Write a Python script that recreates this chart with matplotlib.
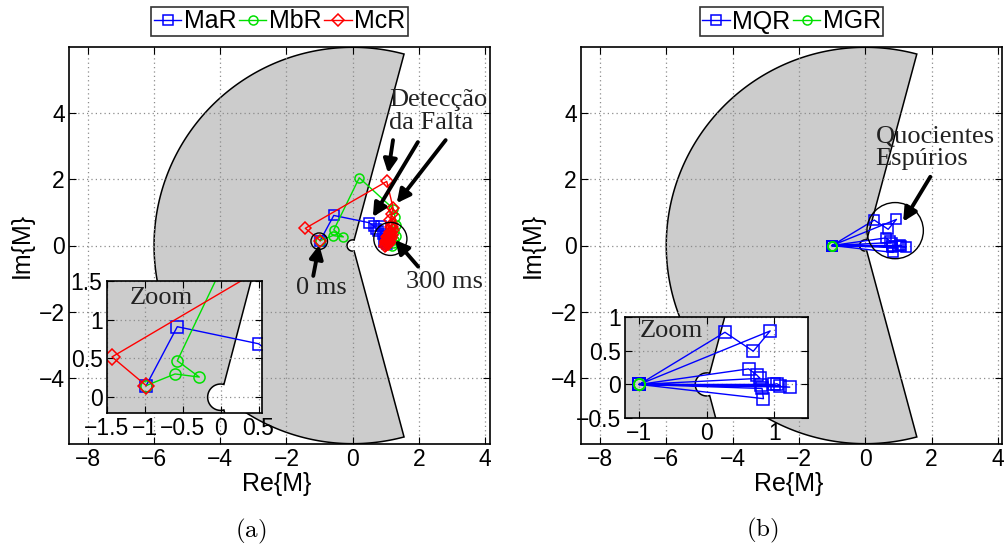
import numpy as np
import matplotlib
matplotlib.use("Agg")
import matplotlib.pyplot as plt
from matplotlib.patches import Polygon, Circle

plt.rcParams['font.family'] = ['Liberation Sans', 'DejaVu Sans']
plt.rcParams['mathtext.fontset'] = 'cm'

# --- data ---
# panel (a): trajectories of the three quotients
ma_re = [-0.98, -0.57, 0.50, 0.65, 0.72, 0.85, 0.78, 0.92, 0.98, 1.02, 0.95, 1.05]
ma_im = [0.15, 0.91, 0.69, 0.58, 0.50, 0.60, 0.45, 0.35, 0.28, 0.20, 0.12, 0.05]
mb_re = [-0.98, -0.60, -0.28, -0.57, 0.20, 1.23, 1.28, 1.30, 1.26, 1.30, 1.25, 1.22, 1.18]
mb_im = [0.15, 0.30, 0.26, 0.47, 2.05, 1.11, 0.85, 0.62, 0.45, 0.30, 0.18, 0.08, 0.00]
mc_re = [-0.98, -1.43, 1.03, 1.22, 1.18, 1.14, 1.20, 1.15, 1.22, 1.12, 1.18, 1.08,
         1.15, 1.05, 1.10, 1.00, 1.06, 1.02, 1.12, 0.98, 1.08, 1.16, 1.04, 1.12,
         1.00, 1.10, 1.18, 1.06, 1.14, 1.02]
mc_im = [0.15, 0.52, 1.94, 1.15, 0.95, 0.78, 0.65, 0.55, 0.48, 0.40, 0.33, 0.28,
         0.22, 0.18, 0.12, 0.08, 0.05, 0.02, 0.10, 0.00, 0.30, 0.42, 0.25, 0.36,
         0.15, 0.20, 0.55, 0.06, 0.28, 0.12]

# panel (b)
mq_re = [-1.00, 0.27, 0.69, 0.94, -1.00, 0.62, 0.74, 0.79, -1.00, 0.80, 1.23, -1.00,
         0.84, 0.82, -1.00, 0.99, 1.04, 1.09, -1.00]
mq_im = [0.00, 0.77, 0.49, 0.79, 0.00, 0.23, 0.14, 0.09, 0.00, -0.01, -0.04, 0.00,
         -0.21, -0.06, 0.00, 0.00, 0.01, -0.02, 0.00]
mg_re = [-1.00, -1.00, -1.00]
mg_im = [0.00, 0.00, 0.00]

# restraint region: annular sector
R_OUT = 6.0
R_IN = 0.17
ANG_MIN, ANG_MAX = 75.0, 285.0

W, H = 1005, 547
fig = plt.figure(figsize=(W / 100, H / 100), dpi=100)


def px_axes(x0, y0, x1, y1):
    return fig.add_axes([x0 / W, 1 - y1 / H, (x1 - x0) / W, (y1 - y0) / H])


def draw_region(ax):
    t_out = np.radians(np.linspace(ANG_MIN, ANG_MAX, 300))
    t_in = np.radians(np.linspace(ANG_MAX, ANG_MIN, 80))
    xs = np.concatenate([R_OUT * np.cos(t_out), R_IN * np.cos(t_in)])
    ys = np.concatenate([R_OUT * np.sin(t_out), R_IN * np.sin(t_in)])
    ax.add_patch(Polygon(np.column_stack([xs, ys]), closed=True, facecolor='#cccccc',
                         edgecolor='black', lw=1.1, zorder=1))


def tick_fmt(v):
    return ('%g' % v).replace('-', '\u2212')


def style_axes(ax, xticks, yticks, xlim, ylim):
    ax.set_xlim(*xlim)
    ax.set_ylim(*ylim)
    ax.set_xticks(xticks)
    ax.set_yticks(yticks)
    ax.set_xticklabels([tick_fmt(v) for v in xticks])
    ax.set_yticklabels([tick_fmt(v) for v in yticks])
    ax.grid(True, ls=(0, (1, 2.5)), color='0.55', lw=0.9)
    ax.set_axisbelow(False)
    ax.tick_params(direction='in', top=True, right=True, length=5, labelsize=16.5, pad=3)
    for s in ax.spines.values():
        s.set_linewidth(1.2)
        s.set_zorder(5)


def plot_series(ax, big):
    ms = 8 if big else 6.5
    h = []
    for re, im, c, m in sets:
        ln, = ax.plot(re, im, color=c, marker=m, ms=ms, mfc='none', mew=1.1, lw=1.0, zorder=3)
        h.append(ln)
    return h


serif = ['Liberation Serif', 'DejaVu Serif']
arrow_kw = dict(arrowstyle='-|>', color='black', lw=2.8, mutation_scale=20, shrinkA=0, shrinkB=0)
leg_kw = dict(loc='center', fontsize=18, frameon=True, fancybox=False, edgecolor='black',
              handlelength=1.1, handletextpad=0.1, columnspacing=0.1, borderpad=0.1,
              borderaxespad=0)

# ================= panel (a) =================
ax1 = px_axes(69, 47.3, 490, 443.7)
draw_region(ax1)
sets = [(ma_re, ma_im, 'blue', 's'), (mb_re, mb_im, '#00e000', 'o'), (mc_re, mc_im, 'red', 'D')]
hA = plot_series(ax1, False)
style_axes(ax1, [-8, -6, -4, -2, 0, 2, 4], [-4, -2, 0, 2, 4], (-8.57, 4.15), (-6, 6))
ax1.add_patch(Circle((-1.01, 0.13), 0.25, fill=False, ec='black', lw=1.0, zorder=4))
ax1.add_patch(Circle((1.14, 0.20), 0.50, fill=False, ec='black', lw=1.0, zorder=4))
ax1.text(1.10, 4.06, 'Detecção\nda Falta', family=serif, fontsize=19, ha='left', va='center',
         linespacing=1.05, color='#222222', zorder=6)
ax1.text(-0.93, -1.29, '0 ms', family=serif, fontsize=19, ha='center', va='center', color='#222222')
ax1.text(1.62, -1.10, '300 ms', family=serif, fontsize=19, ha='left', va='center', color='#222222')
for tail, head in [((1.22, 3.19), (1.07, 2.19)), ((1.97, 3.13), (0.61, 0.86)),
                   ((2.81, 3.19), (1.33, 1.28)), ((-1.19, -0.92), (-1.01, 0.02)),
                   ((1.98, -0.64), (1.28, 0.17))]:
    ax1.annotate('', xy=head, xytext=tail, arrowprops=arrow_kw, zorder=6)

leg = fig.legend(hA, ['MaR', 'MbR', 'McR'], bbox_to_anchor=(279.5 / W, 1 - 21.5 / H), ncol=3, **leg_kw)
leg.get_frame().set_linewidth(1.2)

# inset (a)
in1 = px_axes(106.7, 281, 262.3, 412.7)
draw_region(in1)
plot_series(in1, True)
style_axes(in1, [-1.5, -1, -0.5, 0, 0.5], [0, 0.5, 1, 1.5], (-1.5, 0.55), (-0.2, 1.5))
in1.text(0.15, 0.87, 'Zoom', transform=in1.transAxes, family=serif, fontsize=19,
         ha='left', va='center', color='#222222')

fig.text(22 / W, 1 - 245 / H, 'Im{M}', rotation=90, ha='center', va='center', fontsize=18)
fig.text(277 / W, 1 - 484 / H, 'Re{M}', ha='center', va='center', fontsize=18)
fig.text(251 / W, 1 - 531 / H, r'$\mathrm{(a)}$', ha='center', va='center', fontsize=18)

# ================= panel (b) =================
ax2 = px_axes(581, 47.3, 1002.3, 443.7)
draw_region(ax2)
sets = [(mq_re, mq_im, 'blue', 's'), (mg_re, mg_im, '#00e000', 'o')]
hB = plot_series(ax2, False)
style_axes(ax2, [-8, -6, -4, -2, 0, 2, 4], [-4, -2, 0, 2, 4], (-8.57, 4.13), (-6, 6))
ax2.add_patch(Circle((0.9, 0.45), 0.85, fill=False, ec='black', lw=1.0, zorder=4))
ax2.text(0.31, 2.95, 'Quocientes\nEspúrios', family=serif, fontsize=19, ha='left', va='center',
         linespacing=1.05, color='#222222', zorder=6)
ax2.annotate('', xy=(1.14, 0.72), xytext=(1.96, 2.08), arrowprops=arrow_kw, zorder=6)

leg2 = fig.legend(hB, ['MQR', 'MGR'], bbox_to_anchor=(791.5 / W, 1 - 21.5 / H), ncol=2, **leg_kw)
leg2.get_frame().set_linewidth(1.2)

in2 = px_axes(625, 316.7, 808, 418.3)
draw_region(in2)
plot_series(in2, True)
style_axes(in2, [-1, 0, 1], [-0.5, 0, 0.5, 1], (-1.21, 1.5), (-0.5, 1.0))
in2.text(0.08, 0.86, 'Zoom', transform=in2.transAxes, family=serif, fontsize=19,
         ha='left', va='center', color='#222222')

fig.text(533 / W, 1 - 245 / H, 'Im{M}', rotation=90, ha='center', va='center', fontsize=18)
fig.text(789 / W, 1 - 484 / H, 'Re{M}', ha='center', va='center', fontsize=18)
fig.text(762 / W, 1 - 530 / H, r'$\mathrm{(b)}$', ha='center', va='center', fontsize=18)

fig.savefig('out.png', dpi=100)
